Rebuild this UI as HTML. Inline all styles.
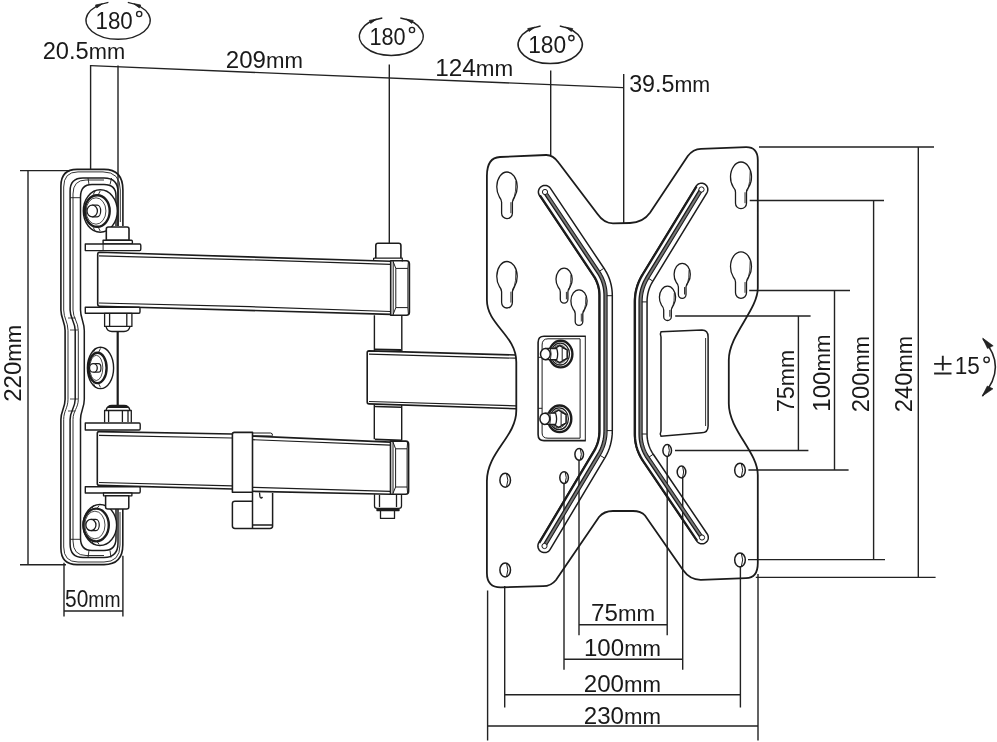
<!DOCTYPE html>
<html><head><meta charset="utf-8">
<style>
html,body{margin:0;padding:0;background:#fff;width:997px;height:742px;overflow:hidden}
svg{display:block;will-change:transform}
text{font-family:"Liberation Sans",sans-serif;font-size:24.5px;fill:#1a1a1a}
</style></head>
<body>
<svg width="997" height="742" viewBox="0 0 997 742">
<rect width="997" height="742" fill="#fff"/>

<g stroke="#222" stroke-width="1.4" fill="none">
<path d="M90.6 65.6 L623 87.6"/>
<path d="M90.6 65 V169 M118 65.5 V226 M389.3 64.6 V243 M550.7 70.5 V155.5 M623.7 74 V223"/>
<path d="M20 170.6 H70 M28 170.6 V564.7 M20 564.7 H66"/>
<path d="M64 611 H123 M64 562.7 V616.6 M122.9 555.7 V616.6"/>
<path d="M759 147 H934 M918.3 147 V577.4 M755.8 577.4 H935.6"/>
<path d="M749.7 200.5 H884 M873.6 200.5 V559.6 M748 559.6 H885"/>
<path d="M749.2 290.5 H850 M834.5 290.5 V470 M748.4 470 H848.6"/>
<path d="M675.2 316 H810.6 M798.4 316 V450.5 M675 450.5 H808.4"/>
<path d="M578.8 624.7 H666.7 M579 460 V635.2 M667.2 456 V635.2"/>
<path d="M564.4 659.3 H682.3 M564 483 V669.8 M682.7 477 V669.8"/>
<path d="M505 694.8 H740.4 M504.7 586 V707.5 M740.4 566 V707.5"/>
<path d="M487.6 726 H758 M487.6 590.5 V740.6 M758 574 V740.6"/>
</g>
<path d="M127.80 2.38 A32.1 18.9 0 1 1 108.40 2.38" stroke="#222" stroke-width="1.5" fill="none"/>
<path d="M102.56 3.64 L96.80 7.93 L95.51 5.00 Z" fill="#222" stroke="#222" stroke-width="0.8" stroke-linejoin="round"/>
<path d="M133.64 3.64 L140.69 5.00 L139.40 7.93 Z" fill="#222" stroke="#222" stroke-width="0.8" stroke-linejoin="round"/>
<path d="M400.30 17.98 A31.9 19.1 0 1 1 382.30 17.98" stroke="#222" stroke-width="1.5" fill="none"/>
<path d="M376.48 19.17 L370.67 23.39 L369.41 20.44 Z" fill="#222" stroke="#222" stroke-width="0.8" stroke-linejoin="round"/>
<path d="M406.12 19.17 L413.19 20.44 L411.93 23.39 Z" fill="#222" stroke="#222" stroke-width="0.8" stroke-linejoin="round"/>
<path d="M559.80 25.89 A32.0 19.3 0 1 1 540.60 25.89" stroke="#222" stroke-width="1.5" fill="none"/>
<path d="M534.75 27.18 L529.02 31.50 L527.71 28.58 Z" fill="#222" stroke="#222" stroke-width="0.8" stroke-linejoin="round"/>
<path d="M565.65 27.18 L572.69 28.58 L571.38 31.50 Z" fill="#222" stroke="#222" stroke-width="0.8" stroke-linejoin="round"/>
<g stroke="#222" stroke-width="1.4" fill="none">
<circle cx="139.2" cy="14.0" r="2.6"/><circle cx="412" cy="30" r="2.6"/><circle cx="571.4" cy="38.1" r="2.6"/><circle cx="986.6" cy="359.8" r="2.7"/>
</g>
<path d="M983 339 Q1008 367 982.5 396" stroke="#222" stroke-width="1.5" fill="none"/>
<path d="M982.6 338.1 L993.2 345.8 L987.5 348.5 Z M982.1 396.2 L993 388.8 L987.3 386 Z" fill="#222" stroke="#222" stroke-width="0.6"/>
<path d="M942.8 355.8 V370.5 M934.1 363.9 H951.5 M934.1 373.5 H951.5" stroke="#222" stroke-width="1.9" fill="none"/>
<path d="M486.9 176 Q486.9 157.5 500 157 L546 155 Q553 154.8 558.5 162.5 L597.3 213.7 Q604 223.3 613 223.3 L630 223 Q643 222.5 650 212.7 L687.8 156 Q693 149 701 148.8 L746 147.2 Q757.8 147 757.8 160 L757.8 288 C757.8 310 728.8 335 728.8 360 L728.8 403.5 C728.8 430 757.8 452 757.8 475 L757.8 563 Q757.8 578 746 578.2 L701 579.8 Q690 580 683 570 L645 515.5 Q641 511 633 511 L613 511 Q604 511 599 517 L556 580 Q551 586.2 543 586.2 L501 587.4 Q486.9 587.6 486.9 573 L486.9 481 C486.9 452 516.3 437 516.3 410.5 L516.3 362 C516.3 335 486.9 325 486.9 300 Z" stroke="#1c1c1c" stroke-width="1.8" fill="none"/>
<path d="M592.96 275.53 L593.59 276.50 L594.16 277.43 L594.70 278.38 L595.20 279.33 L595.68 280.28 L596.12 281.24 L596.53 282.21 L596.91 283.19 L597.26 284.17 L597.58 285.17 L597.86 286.17 L598.12 287.18 L598.35 288.21 L598.55 289.24 L598.72 290.29 L598.85 291.34 L598.96 292.41 L599.04 293.50 L599.08 294.59 L599.10 295.75 L599.10 430.56 L599.08 431.72 L599.04 432.84 L598.97 433.94 L598.87 435.03 L598.74 436.11 L598.58 437.19 L598.40 438.25 L598.18 439.30 L597.94 440.35 L597.67 441.38 L597.37 442.41 L597.04 443.43 L596.69 444.45 L596.30 445.45 L595.89 446.45 L595.44 447.45 L594.97 448.44 L594.46 449.42 L593.93 450.40 L593.34 451.41 L538.83 542.61 L538.44 543.38 L538.15 544.20 L537.97 545.04 L537.90 545.90 L537.94 546.76 L538.10 547.61 L538.36 548.43 L538.74 549.21 L539.20 549.94 L539.76 550.60 L540.40 551.17 L541.11 551.67 L541.88 552.06 L542.70 552.35 L543.54 552.53 L544.40 552.60 L545.26 552.56 L546.11 552.40 L546.93 552.14 L547.71 551.76 L548.44 551.30 L549.10 550.74 L549.67 550.10 L550.17 549.39 L604.70 458.14 L604.74 458.07 L605.39 456.95 L605.47 456.80 L606.09 455.67 L606.17 455.52 L606.76 454.38 L606.83 454.22 L607.38 453.07 L607.46 452.91 L607.97 451.76 L608.05 451.59 L608.53 450.43 L608.60 450.26 L609.05 449.08 L609.11 448.91 L609.53 447.73 L609.58 447.56 L609.97 446.36 L610.02 446.19 L610.37 444.98 L610.42 444.81 L610.74 443.60 L610.78 443.42 L611.06 442.20 L611.10 442.02 L611.35 440.79 L611.38 440.61 L611.60 439.37 L611.63 439.19 L611.81 437.94 L611.84 437.77 L611.99 436.51 L612.01 436.33 L612.12 435.06 L612.14 434.89 L612.22 433.61 L612.23 433.44 L612.28 432.15 L612.28 431.98 L612.30 430.68 L612.30 430.60 L612.30 295.70 L612.30 295.61 L612.28 294.31 L612.28 294.13 L612.22 292.84 L612.21 292.65 L612.12 291.38 L612.10 291.19 L611.98 289.93 L611.96 289.74 L611.79 288.49 L611.76 288.29 L611.57 287.05 L611.53 286.86 L611.30 285.63 L611.26 285.43 L610.99 284.22 L610.94 284.02 L610.63 282.82 L610.58 282.62 L610.24 281.43 L610.18 281.24 L609.80 280.05 L609.73 279.86 L609.32 278.69 L609.25 278.50 L608.80 277.34 L608.72 277.15 L608.23 276.00 L608.15 275.82 L607.63 274.68 L607.55 274.50 L606.99 273.37 L606.90 273.20 L606.30 272.08 L606.21 271.91 L605.57 270.81 L605.48 270.64 L604.81 269.55 L604.71 269.39 L604.01 268.30 L603.95 268.23 L550.49 188.33 L549.96 187.64 L549.35 187.03 L548.66 186.51 L547.91 186.08 L547.12 185.75 L546.28 185.53 L545.43 185.41 L544.56 185.41 L543.71 185.53 L542.87 185.75 L542.08 186.08 L541.33 186.51 L540.64 187.04 L540.03 187.65 L539.51 188.34 L539.08 189.09 L538.75 189.88 L538.53 190.72 L538.41 191.57 L538.41 192.44 L538.53 193.29 L538.75 194.13 L539.08 194.92 L539.51 195.67 L592.96 275.53 Z" stroke="#1c1c1c" stroke-width="1.5" fill="none"/>
<path d="M539.93 195.39 L593.38 275.25 L594.01 276.23 L594.59 277.18 L595.14 278.13 L595.65 279.10 L596.13 280.06 L596.58 281.04 L596.99 282.02 L597.38 283.01 L597.73 284.01 L598.06 285.02 L598.35 286.04 L598.61 287.07 L598.84 288.11 L599.04 289.15 L599.21 290.21 L599.35 291.29 L599.46 292.37 L599.54 293.47 L599.58 294.58 L599.60 295.74 L599.60 430.56 L599.58 431.74 L599.54 432.86 L599.47 433.98 L599.37 435.09 L599.24 436.18 L599.08 437.27 L598.89 438.34 L598.67 439.41 L598.43 440.47 L598.15 441.52 L597.85 442.56 L597.52 443.59 L597.16 444.62 L596.77 445.64 L596.35 446.65 L595.90 447.66 L595.42 448.66 L594.91 449.66 L594.37 450.65 L593.77 451.66 L539.26 542.87" stroke="#1c1c1c" stroke-width="2.2" fill="none"/>
<path d="M544.83 192.11 L598.30 272.01 L599.01 273.09 L599.67 274.18 L600.30 275.28 L600.89 276.40 L601.45 277.52 L601.97 278.66 L602.46 279.80 L602.91 280.96 L603.32 282.13 L603.70 283.31 L604.04 284.50 L604.35 285.70 L604.62 286.91 L604.85 288.13 L605.05 289.37 L605.21 290.61 L605.34 291.87 L605.43 293.13 L605.48 294.41 L605.50 295.70 L605.50 430.60 L605.48 431.89 L605.43 433.17 L605.35 434.44 L605.23 435.71 L605.08 436.96 L604.90 438.20 L604.69 439.44 L604.44 440.66 L604.16 441.88 L603.84 443.09 L603.49 444.28 L603.11 445.47 L602.69 446.65 L602.25 447.82 L601.76 448.99 L601.25 450.14 L600.70 451.28 L600.12 452.42 L599.51 453.54 L598.86 454.66 L544.33 545.90" stroke="#777" stroke-width="3.0" fill="none"/>
<path d="M543.59 192.95 L597.05 272.83 L597.74 273.89 L598.38 274.94 L598.99 276.01 L599.56 277.08 L600.10 278.17 L600.60 279.26 L601.07 280.37 L601.50 281.48 L601.90 282.61 L602.27 283.74 L602.59 284.89 L602.89 286.05 L603.15 287.21 L603.37 288.39 L603.57 289.58 L603.72 290.78 L603.84 291.99 L603.93 293.22 L603.98 294.45 L604.00 295.71 L604.00 430.59 L603.98 431.85 L603.94 433.09 L603.86 434.33 L603.74 435.55 L603.60 436.76 L603.42 437.96 L603.21 439.16 L602.97 440.34 L602.70 441.52 L602.39 442.69 L602.06 443.85 L601.69 445.00 L601.29 446.14 L600.85 447.27 L600.39 448.39 L599.89 449.51 L599.36 450.61 L598.80 451.71 L598.20 452.80 L597.57 453.90 L543.04 545.13" stroke="#1c1c1c" stroke-width="1.3" fill="none"/>
<path d="M546.16 191.22 L599.63 271.12 L599.64 271.13 L600.35 272.22 L600.37 272.25 L601.04 273.35 L601.06 273.38 L601.69 274.49 L601.71 274.53 L602.31 275.65 L602.33 275.68 L602.89 276.81 L602.91 276.85 L603.43 277.99 L603.45 278.03 L603.93 279.18 L603.95 279.22 L604.40 280.38 L604.42 280.42 L604.83 281.60 L604.85 281.64 L605.23 282.82 L605.24 282.86 L605.58 284.06 L605.59 284.10 L605.90 285.31 L605.91 285.35 L606.18 286.56 L606.19 286.61 L606.42 287.83 L606.43 287.88 L606.63 289.12 L606.64 289.16 L606.80 290.41 L606.80 290.45 L606.93 291.71 L606.93 291.75 L607.02 293.02 L607.03 293.06 L607.08 294.35 L607.08 294.39 L607.10 295.68 L607.10 295.70 L607.10 430.60 L607.10 430.62 L607.08 431.91 L607.08 431.95 L607.03 433.24 L607.03 433.27 L606.95 434.55 L606.94 434.59 L606.83 435.85 L606.82 435.89 L606.67 437.15 L606.67 437.19 L606.48 438.44 L606.48 438.48 L606.26 439.72 L606.25 439.75 L606.00 440.98 L606.00 441.02 L605.71 442.24 L605.70 442.28 L605.39 443.49 L605.38 443.53 L605.03 444.73 L605.02 444.77 L604.63 445.97 L604.62 446.00 L604.20 447.19 L604.19 447.22 L603.74 448.40 L603.73 448.43 L603.24 449.60 L603.23 449.64 L602.71 450.79 L602.69 450.83 L602.14 451.97 L602.13 452.01 L601.54 453.15 L601.53 453.18 L600.91 454.31 L600.89 454.34 L600.24 455.46 L600.23 455.48 L545.70 546.72" stroke="#1c1c1c" stroke-width="1.1" fill="none"/>
<path d="M599.47 271.23 L603.71 268.39" stroke="#1c1c1c" stroke-width="1.0" fill="none"/>
<path d="M606.90 295.70 L612.00 295.70" stroke="#1c1c1c" stroke-width="1.0" fill="none"/>
<path d="M606.90 430.60 L612.00 430.60" stroke="#1c1c1c" stroke-width="1.0" fill="none"/>
<path d="M600.06 455.37 L604.44 457.99" stroke="#1c1c1c" stroke-width="1.0" fill="none"/>
<circle cx="545.00" cy="192.00" r="2.6" stroke="#1c1c1c" stroke-width="1.0" fill="#fff"/>
<circle cx="544.50" cy="546.00" r="2.6" stroke="#1c1c1c" stroke-width="1.0" fill="#fff"/>
<path d="M642.15 274.52 L642.11 274.59 L641.45 275.71 L641.37 275.85 L640.74 276.97 L640.66 277.12 L640.07 278.26 L639.99 278.41 L639.43 279.55 L639.36 279.71 L638.83 280.86 L638.76 281.02 L638.27 282.18 L638.20 282.34 L637.75 283.51 L637.68 283.68 L637.26 284.86 L637.20 285.03 L636.81 286.22 L636.76 286.39 L636.40 287.59 L636.36 287.76 L636.03 288.97 L635.99 289.14 L635.70 290.36 L635.67 290.53 L635.41 291.76 L635.38 291.93 L635.16 293.17 L635.13 293.34 L634.94 294.59 L634.92 294.76 L634.77 296.02 L634.75 296.19 L634.63 297.46 L634.62 297.63 L634.53 298.90 L634.52 299.07 L634.47 300.36 L634.47 300.52 L634.45 301.82 L634.45 301.90 L634.45 434.00 L634.45 434.09 L634.47 435.38 L634.47 435.56 L634.53 436.85 L634.54 437.03 L634.63 438.30 L634.65 438.48 L634.77 439.74 L634.79 439.93 L634.96 441.18 L634.99 441.37 L635.19 442.61 L635.22 442.79 L635.46 444.02 L635.50 444.21 L635.77 445.42 L635.81 445.61 L636.12 446.82 L636.17 447.00 L636.52 448.20 L636.58 448.38 L636.96 449.56 L637.02 449.75 L637.44 450.92 L637.51 451.10 L637.96 452.26 L638.04 452.43 L638.53 453.58 L638.61 453.76 L639.13 454.90 L639.22 455.07 L639.78 456.19 L639.87 456.36 L640.47 457.47 L640.56 457.64 L641.20 458.74 L641.29 458.90 L641.96 459.99 L642.06 460.14 L642.77 461.22 L642.82 461.30 L696.78 541.03 L697.29 541.68 L697.87 542.26 L698.53 542.76 L699.25 543.17 L700.01 543.48 L700.81 543.69 L701.63 543.79 L702.45 543.78 L703.27 543.67 L704.06 543.45 L704.82 543.13 L705.53 542.72 L706.18 542.21 L706.76 541.63 L707.26 540.97 L707.67 540.25 L707.98 539.49 L708.19 538.69 L708.29 537.87 L708.28 537.05 L708.17 536.23 L707.95 535.44 L707.63 534.68 L707.22 533.97 L653.28 454.27 L652.64 453.30 L652.06 452.36 L651.52 451.42 L651.00 450.46 L650.52 449.51 L650.07 448.54 L649.66 447.57 L649.27 446.58 L648.92 445.59 L648.60 444.59 L648.30 443.59 L648.04 442.57 L647.81 441.54 L647.61 440.50 L647.44 439.45 L647.30 438.38 L647.19 437.31 L647.11 436.22 L647.07 435.12 L647.05 433.96 L647.05 301.94 L647.07 300.77 L647.11 299.65 L647.18 298.55 L647.29 297.45 L647.42 296.36 L647.58 295.29 L647.77 294.22 L647.99 293.17 L648.23 292.12 L648.51 291.08 L648.82 290.05 L649.15 289.03 L649.51 288.02 L649.91 287.01 L650.33 286.01 L650.79 285.01 L651.27 284.02 L651.78 283.04 L652.33 282.06 L652.93 281.06 L706.88 192.79 L707.26 192.06 L707.54 191.28 L707.72 190.48 L707.80 189.66 L707.76 188.83 L707.62 188.02 L707.38 187.24 L707.03 186.49 L706.59 185.79 L706.06 185.16 L705.46 184.60 L704.79 184.12 L704.06 183.74 L703.28 183.46 L702.48 183.28 L701.66 183.20 L700.83 183.24 L700.02 183.38 L699.24 183.62 L698.49 183.97 L697.79 184.41 L697.16 184.94 L696.60 185.54 L696.12 186.21 L642.15 274.52 Z" stroke="#1c1c1c" stroke-width="1.5" fill="none"/>
<path d="M696.55 186.48 L642.58 274.78 L642.54 274.85 L641.88 275.96 L641.80 276.09 L641.18 277.22 L641.10 277.36 L640.51 278.49 L640.44 278.63 L639.88 279.77 L639.81 279.91 L639.29 281.07 L639.22 281.21 L638.73 282.37 L638.67 282.52 L638.21 283.70 L638.16 283.85 L637.73 285.03 L637.68 285.18 L637.29 286.37 L637.24 286.53 L636.88 287.73 L636.84 287.88 L636.52 289.09 L636.48 289.25 L636.19 290.47 L636.16 290.63 L635.90 291.86 L635.87 292.02 L635.65 293.26 L635.62 293.41 L635.44 294.66 L635.42 294.82 L635.26 296.08 L635.25 296.24 L635.13 297.50 L635.12 297.66 L635.03 298.93 L635.02 299.09 L634.97 300.38 L634.97 300.53 L634.95 301.82 L634.95 301.90 L634.95 434.00 L634.95 434.08 L634.97 435.38 L634.97 435.54 L635.03 436.82 L635.04 436.99 L635.13 438.26 L635.14 438.43 L635.27 439.69 L635.29 439.87 L635.45 441.11 L635.48 441.29 L635.68 442.53 L635.71 442.70 L635.95 443.93 L635.98 444.10 L636.26 445.31 L636.30 445.49 L636.61 446.69 L636.65 446.86 L637.00 448.06 L637.05 448.23 L637.44 449.41 L637.49 449.58 L637.91 450.75 L637.97 450.91 L638.43 452.08 L638.50 452.24 L638.99 453.39 L639.06 453.55 L639.59 454.69 L639.66 454.84 L640.23 455.97 L640.31 456.12 L640.91 457.24 L640.99 457.39 L641.63 458.49 L641.71 458.63 L642.39 459.73 L642.48 459.87 L643.19 460.95 L643.23 461.02 L697.20 540.75" stroke="#1c1c1c" stroke-width="2.2" fill="none"/>
<path d="M701.33 189.40 L647.36 277.70 L647.36 277.71 L646.70 278.82 L646.69 278.82 L646.07 279.95 L646.06 279.95 L645.47 281.09 L645.47 281.09 L644.91 282.23 L644.91 282.24 L644.38 283.39 L644.38 283.40 L643.89 284.56 L643.89 284.56 L643.43 285.73 L643.43 285.74 L643.00 286.92 L643.00 286.92 L642.61 288.11 L642.61 288.12 L642.25 289.32 L642.25 289.33 L641.93 290.53 L641.93 290.54 L641.64 291.76 L641.64 291.76 L641.38 292.99 L641.38 293.00 L641.16 294.24 L641.16 294.24 L640.98 295.49 L640.98 295.50 L640.82 296.75 L640.82 296.76 L640.70 298.02 L640.70 298.03 L640.62 299.31 L640.62 299.31 L640.57 300.60 L640.57 300.60 L640.55 301.90 L640.55 301.90 L640.55 434.00 L640.55 434.00 L640.57 435.30 L640.57 435.30 L640.62 436.59 L640.62 436.59 L640.71 437.86 L640.71 437.87 L640.84 439.13 L640.84 439.14 L641.01 440.39 L641.01 440.39 L641.21 441.63 L641.21 441.64 L641.45 442.86 L641.45 442.87 L641.72 444.09 L641.72 444.09 L642.03 445.30 L642.03 445.30 L642.38 446.50 L642.38 446.50 L642.76 447.69 L642.77 447.69 L643.18 448.86 L643.19 448.87 L643.64 450.03 L643.64 450.03 L644.14 451.18 L644.14 451.19 L644.67 452.33 L644.67 452.33 L645.23 453.46 L645.24 453.47 L645.84 454.58 L645.84 454.59 L646.48 455.69 L646.48 455.70 L647.16 456.79 L647.16 456.79 L647.87 457.88 L647.87 457.88 L701.83 537.61" stroke="#777" stroke-width="3.0" fill="none"/>
<path d="M700.05 188.61 L646.08 276.92 L646.07 276.94 L645.41 278.05 L645.38 278.09 L644.76 279.22 L644.74 279.26 L644.14 280.39 L644.12 280.43 L643.56 281.57 L643.54 281.62 L643.02 282.77 L643.00 282.81 L642.51 283.97 L642.49 284.02 L642.03 285.19 L642.01 285.23 L641.59 286.41 L641.57 286.46 L641.19 287.65 L641.17 287.69 L640.82 288.89 L640.80 288.94 L640.48 290.15 L640.47 290.20 L640.18 291.41 L640.17 291.46 L639.92 292.69 L639.91 292.74 L639.69 293.97 L639.68 294.02 L639.49 295.27 L639.49 295.31 L639.33 296.57 L639.33 296.62 L639.21 297.88 L639.21 297.93 L639.12 299.21 L639.12 299.25 L639.07 300.54 L639.07 300.58 L639.05 301.88 L639.05 301.90 L639.05 434.00 L639.05 434.02 L639.07 435.32 L639.07 435.37 L639.12 436.65 L639.13 436.70 L639.22 437.97 L639.22 438.02 L639.35 439.28 L639.36 439.33 L639.52 440.58 L639.53 440.63 L639.73 441.87 L639.74 441.92 L639.97 443.15 L639.98 443.20 L640.26 444.42 L640.27 444.47 L640.58 445.67 L640.59 445.72 L640.94 446.91 L640.95 446.96 L641.34 448.15 L641.35 448.20 L641.77 449.37 L641.79 449.42 L642.25 450.58 L642.27 450.63 L642.76 451.77 L642.78 451.82 L643.31 452.96 L643.33 453.01 L643.89 454.13 L643.92 454.18 L644.52 455.29 L644.54 455.34 L645.18 456.44 L645.20 456.48 L645.88 457.58 L645.90 457.62 L646.62 458.70 L646.63 458.72 L700.59 538.45" stroke="#1c1c1c" stroke-width="1.3" fill="none"/>
<path d="M702.69 190.23 L648.73 278.53 L648.08 279.62 L647.47 280.71 L646.90 281.81 L646.35 282.92 L645.85 284.04 L645.37 285.16 L644.93 286.30 L644.51 287.44 L644.14 288.59 L643.79 289.76 L643.48 290.93 L643.20 292.11 L642.96 293.30 L642.74 294.50 L642.56 295.71 L642.41 296.93 L642.30 298.15 L642.22 299.39 L642.17 300.64 L642.15 301.91 L642.15 433.99 L642.17 435.25 L642.22 436.50 L642.31 437.73 L642.43 438.95 L642.59 440.16 L642.78 441.35 L643.01 442.54 L643.28 443.71 L643.58 444.88 L643.91 446.03 L644.28 447.17 L644.68 448.30 L645.12 449.42 L645.60 450.54 L646.11 451.63 L646.66 452.72 L647.24 453.80 L647.85 454.87 L648.51 455.93 L649.20 456.99 L703.16 536.72" stroke="#1c1c1c" stroke-width="1.1" fill="none"/>
<path d="M648.55 278.43 L652.65 280.94" stroke="#1c1c1c" stroke-width="1.0" fill="none"/>
<path d="M641.95 301.90 L646.75 301.90" stroke="#1c1c1c" stroke-width="1.0" fill="none"/>
<path d="M641.95 434.00 L646.75 434.00" stroke="#1c1c1c" stroke-width="1.0" fill="none"/>
<path d="M649.03 457.09 L653.01 454.40" stroke="#1c1c1c" stroke-width="1.0" fill="none"/>
<circle cx="701.50" cy="189.50" r="2.6" stroke="#1c1c1c" stroke-width="1.0" fill="#fff"/>
<circle cx="702.00" cy="537.50" r="2.6" stroke="#1c1c1c" stroke-width="1.0" fill="#fff"/>
<path d="M501.60 213.20 L501.60 202.23 Q501.60 199.73 499.40 197.00 A10.20 15.00 0 1 1 514.60 197.00 Q512.40 199.73 512.40 202.23 L512.40 213.20 A5.40 5.40 0 0 1 501.60 213.20 Z" stroke="#1c1c1c" stroke-width="1.3" fill="none"/>
<path d="M510.90 202.23 L510.90 213.20" stroke="#1c1c1c" stroke-width="0.9" fill="none"/>
<path d="M515.90 181.00 Q516.30 191.50 513.40 200.73" stroke="#1c1c1c" stroke-width="0.8" fill="none"/>
<path d="M501.60 302.60 L501.60 291.73 Q501.60 289.23 499.40 286.50 A10.20 15.00 0 1 1 514.60 286.50 Q512.40 289.23 512.40 291.73 L512.40 302.60 A5.40 5.40 0 0 1 501.60 302.60 Z" stroke="#1c1c1c" stroke-width="1.3" fill="none"/>
<path d="M510.90 291.73 L510.90 302.60" stroke="#1c1c1c" stroke-width="0.9" fill="none"/>
<path d="M515.90 270.50 Q516.30 281.00 513.40 290.23" stroke="#1c1c1c" stroke-width="0.8" fill="none"/>
<path d="M560.30 299.30 L560.30 291.88 Q560.30 289.38 558.10 286.99 A8.10 11.30 0 1 1 570.10 286.99 Q567.90 289.38 567.90 291.88 L567.90 299.30 A3.80 3.80 0 0 1 560.30 299.30 Z" stroke="#1c1c1c" stroke-width="1.3" fill="none"/>
<path d="M566.40 291.88 L566.40 299.30" stroke="#1c1c1c" stroke-width="0.9" fill="none"/>
<path d="M570.90 274.88 Q571.30 282.79 568.90 290.38" stroke="#1c1c1c" stroke-width="0.8" fill="none"/>
<path d="M575.20 321.50 L575.20 313.58 Q575.20 311.08 573.00 308.69 A8.10 11.30 0 1 1 585.00 308.69 Q582.80 311.08 582.80 313.58 L582.80 321.50 A3.80 3.80 0 0 1 575.20 321.50 Z" stroke="#1c1c1c" stroke-width="1.3" fill="none"/>
<path d="M581.30 313.58 L581.30 321.50" stroke="#1c1c1c" stroke-width="0.9" fill="none"/>
<path d="M585.80 296.58 Q586.20 304.49 583.80 312.08" stroke="#1c1c1c" stroke-width="0.8" fill="none"/>
<path d="M735.50 203.20 L735.50 192.28 Q735.50 189.78 733.30 187.20 A10.50 15.00 0 1 1 748.70 187.20 Q746.50 189.78 746.50 192.28 L746.50 203.20 A5.50 5.50 0 0 1 735.50 203.20 Z" stroke="#1c1c1c" stroke-width="1.3" fill="none"/>
<path d="M745.00 192.28 L745.00 203.20" stroke="#1c1c1c" stroke-width="0.9" fill="none"/>
<path d="M750.20 171.00 Q750.60 181.50 747.50 190.78" stroke="#1c1c1c" stroke-width="0.8" fill="none"/>
<path d="M735.50 292.80 L735.50 282.08 Q735.50 279.58 733.30 277.00 A10.50 15.00 0 1 1 748.70 277.00 Q746.50 279.58 746.50 282.08 L746.50 292.80 A5.50 5.50 0 0 1 735.50 292.80 Z" stroke="#1c1c1c" stroke-width="1.3" fill="none"/>
<path d="M745.00 282.08 L745.00 292.80" stroke="#1c1c1c" stroke-width="0.9" fill="none"/>
<path d="M750.20 260.80 Q750.60 271.30 747.50 280.58" stroke="#1c1c1c" stroke-width="0.8" fill="none"/>
<path d="M678.40 294.50 L678.40 287.08 Q678.40 284.58 676.20 282.19 A8.10 11.30 0 1 1 688.20 282.19 Q686.00 284.58 686.00 287.08 L686.00 294.50 A3.80 3.80 0 0 1 678.40 294.50 Z" stroke="#1c1c1c" stroke-width="1.3" fill="none"/>
<path d="M684.50 287.08 L684.50 294.50" stroke="#1c1c1c" stroke-width="0.9" fill="none"/>
<path d="M689.00 270.08 Q689.40 277.99 687.00 285.58" stroke="#1c1c1c" stroke-width="0.8" fill="none"/>
<path d="M663.70 316.70 L663.70 309.98 Q663.70 307.48 661.50 305.09 A8.10 11.30 0 1 1 673.50 305.09 Q671.30 307.48 671.30 309.98 L671.30 316.70 A3.80 3.80 0 0 1 663.70 316.70 Z" stroke="#1c1c1c" stroke-width="1.3" fill="none"/>
<path d="M669.80 309.98 L669.80 316.70" stroke="#1c1c1c" stroke-width="0.9" fill="none"/>
<path d="M674.30 292.98 Q674.70 300.89 672.30 308.48" stroke="#1c1c1c" stroke-width="0.8" fill="none"/>
<ellipse cx="505.2" cy="480.2" rx="5.3" ry="7.0" stroke="#1c1c1c" stroke-width="1.5" fill="none"/>
<path d="M506.52 473.55 Q509.18 480.2 506.52 486.85" stroke="#1c1c1c" stroke-width="1.0" fill="none"/>
<ellipse cx="505.2" cy="569.9" rx="5.3" ry="7.0" stroke="#1c1c1c" stroke-width="1.5" fill="none"/>
<path d="M506.52 563.25 Q509.18 569.9 506.52 576.55" stroke="#1c1c1c" stroke-width="1.0" fill="none"/>
<ellipse cx="579.2" cy="454.3" rx="4.3" ry="5.9" stroke="#1c1c1c" stroke-width="1.5" fill="none"/>
<path d="M580.28 448.69 Q582.43 454.3 580.28 459.91" stroke="#1c1c1c" stroke-width="1.0" fill="none"/>
<ellipse cx="564.1" cy="477.6" rx="4.3" ry="5.9" stroke="#1c1c1c" stroke-width="1.5" fill="none"/>
<path d="M565.18 472.00 Q567.33 477.6 565.18 483.21" stroke="#1c1c1c" stroke-width="1.0" fill="none"/>
<ellipse cx="667.2" cy="450.5" rx="4.3" ry="5.9" stroke="#1c1c1c" stroke-width="1.5" fill="none"/>
<path d="M668.28 444.89 Q670.43 450.5 668.28 456.11" stroke="#1c1c1c" stroke-width="1.0" fill="none"/>
<ellipse cx="681.5" cy="472" rx="4.3" ry="5.9" stroke="#1c1c1c" stroke-width="1.5" fill="none"/>
<path d="M682.58 466.39 Q684.73 472 682.58 477.61" stroke="#1c1c1c" stroke-width="1.0" fill="none"/>
<ellipse cx="740" cy="470.2" rx="5.3" ry="7.0" stroke="#1c1c1c" stroke-width="1.5" fill="none"/>
<path d="M741.33 463.55 Q743.98 470.2 741.33 476.85" stroke="#1c1c1c" stroke-width="1.0" fill="none"/>
<ellipse cx="740" cy="559.9" rx="5.3" ry="7.0" stroke="#1c1c1c" stroke-width="1.5" fill="none"/>
<path d="M741.33 553.25 Q743.98 559.9 741.33 566.55" stroke="#1c1c1c" stroke-width="1.0" fill="none"/>
<path d="M661 331.8 L702 330.1 Q708.1 330.1 708.1 337 L708.1 426 Q708.1 432.8 701.5 432.8 L661 436.2 Q659.6 434 661 431 L661 337 Q659.6 334 661 331.8 Z" stroke="#1c1c1c" stroke-width="1.5" fill="none"/>
<path d="M705.6 338 L705.6 426" stroke="#1c1c1c" stroke-width="0.9" fill="none"/>
<path d="M122.9 226 L122.9 190 Q122.9 169.4 104 169.4 L77 169.4 Q60.9 169.4 60.9 186 L60.9 310 C60.9 318 65.1 322 65.1 330.5 L65.1 399.2 C65.1 408 60.9 411 60.9 419.4 L60.9 548 Q60.9 564.6 77 564.6 L104 564.6 Q122.8 564.6 122.8 545 L122.8 509" stroke="#1c1c1c" stroke-width="1.6" fill="none" stroke-linejoin="round"/>
<path d="M120.3 222 L120.3 190 Q120.3 171.9 103 171.9 L78 171.9 Q63.7 171.9 63.7 187 L63.7 310 C63.7 318 68 322 68 330.5 L68 399.2 C68 408 63.7 411 63.7 419.4 L63.7 547 Q63.7 562 78 562 L104 562 Q120 562 120 545 L120 512" stroke="#1c1c1c" stroke-width="0.9" fill="none" stroke-linejoin="round"/>
<path d="M118 226 L118 192 Q118 178 104 178 L83 178 Q70.1 178 70.1 191 L70.1 310 C70.1 318 75.2 322 75.2 330.5 L75.2 399.2 C75.2 408 70.1 411 70.1 419.4 L70.1 544 Q70.1 557.5 83 557.5 L104 557.5 Q118 557.5 118 543 L118 509" stroke="#1c1c1c" stroke-width="1.5" fill="none" stroke-linejoin="round"/>
<path d="M73 194 Q73 180 86 180 L104 180 M73 194 L73 310 C73 318 78.3 322 78.3 330.5 L78.3 399.2 C78.3 408 73 411 73 419.4 L73 541 Q73 555.5 86 555.5 L104 555.5" stroke="#1c1c1c" stroke-width="0.9" fill="none" stroke-linejoin="round"/>
<path d="M116 226 L116 196 Q116 184.5 104 184.5 L92 184.5 Q80.5 184.5 80.5 197 L80.5 310 C80.5 318 84.3 322 84.3 330.5 L84.3 399.2 C84.3 408 80.5 411 80.5 419.4 L80.5 538 Q80.5 550.5 92 550.5 L104 550.5 Q116 550.5 116 538 L116 509" stroke="#1c1c1c" stroke-width="1.5" fill="none" stroke-linejoin="round"/>
<path d="M70.1 197.7 L80.5 197.7 M70.1 539.3 L80.5 539.3 M88 178 L89 184.5 M111.6 178 L110 184.5 M88 557.5 L89 550.5 M111 557.5 L110 550.5" stroke="#1c1c1c" stroke-width="0.9" fill="none" stroke-linejoin="round"/>
<path d="M68 318 L75.5 318 M70 330 L78 330 M68 411 L75.5 411 M70 399 L78 399" stroke="#1c1c1c" stroke-width="0.8" fill="none" stroke-linejoin="round"/>
<ellipse cx="100.3" cy="211" rx="17" ry="21.2" stroke="#1c1c1c" stroke-width="1.4" fill="#fff"/>
<ellipse cx="97.2" cy="211" rx="12.5" ry="15.8" stroke="#1c1c1c" stroke-width="2.4" fill="none"/>
<ellipse cx="96.0" cy="211" rx="9.9" ry="13.200000000000001" stroke="#1c1c1c" stroke-width="0.8" fill="none"/>
<path d="M92.2 205.2 L97.2 205.2 A3.48 5.8 0 0 1 97.2 216.8 L92.2 216.8" stroke="#1c1c1c" stroke-width="1.2" fill="#fff"/>
<ellipse cx="92.2" cy="211" rx="5.22" ry="5.80" stroke="#1c1c1c" stroke-width="1.3" fill="#fff"/>
<path d="M93.20 194.70 L95.20 190.60 M98.20 194.90 L100.20 191.00 M93.20 227.30 L95.20 231.40 M98.20 227.10 L100.20 231.00" stroke="#1c1c1c" stroke-width="0.9" fill="none"/>
<ellipse cx="99.9" cy="525.0" rx="16.7" ry="20.5" stroke="#1c1c1c" stroke-width="1.4" fill="#fff"/>
<ellipse cx="96.1" cy="525.0" rx="12.7" ry="16.4" stroke="#1c1c1c" stroke-width="2.4" fill="none"/>
<ellipse cx="94.89999999999999" cy="525.0" rx="10.1" ry="13.799999999999999" stroke="#1c1c1c" stroke-width="0.8" fill="none"/>
<path d="M90.9 519.4 L95.9 519.4 A3.36 5.6 0 0 1 95.9 530.6 L90.9 530.6" stroke="#1c1c1c" stroke-width="1.2" fill="#fff"/>
<ellipse cx="90.9" cy="525.0" rx="5.04" ry="5.60" stroke="#1c1c1c" stroke-width="1.3" fill="#fff"/>
<path d="M92.10 508.10 L94.10 505.30 M97.10 508.30 L99.10 505.70 M92.10 541.90 L94.10 544.70 M97.10 541.70 L99.10 544.30" stroke="#1c1c1c" stroke-width="0.9" fill="none"/>
<ellipse cx="100.5" cy="367.9" rx="13.1" ry="20.7" stroke="#1c1c1c" stroke-width="1.4" fill="#fff"/>
<ellipse cx="97.5" cy="367.9" rx="9.1" ry="15.2" stroke="#1c1c1c" stroke-width="2.4" fill="none"/>
<ellipse cx="96.3" cy="367.9" rx="6.5" ry="12.6" stroke="#1c1c1c" stroke-width="0.8" fill="none"/>
<path d="M93.4 363.59999999999997 L98.4 363.59999999999997 A2.5799999999999996 4.3 0 0 1 98.4 372.2 L93.4 372.2" stroke="#1c1c1c" stroke-width="1.2" fill="#fff"/>
<ellipse cx="93.4" cy="367.9" rx="3.87" ry="4.30" stroke="#1c1c1c" stroke-width="1.3" fill="#fff"/>
<path d="M93.50 352.20 L95.50 348.00 M98.50 352.40 L100.50 348.40 M93.50 383.60 L95.50 387.80 M98.50 383.40 L100.50 387.40" stroke="#1c1c1c" stroke-width="0.9" fill="none"/>
<path d="M117.7 331.5 L117.7 405.3" stroke="#1c1c1c" stroke-width="2.2" fill="none" stroke-linejoin="round"/>
<path d="M106.3 240.2 L106.3 229 Q106.3 227 108.5 227 L127 227 Q129 227 129 229 L129 240.2 Z" stroke="#1c1c1c" stroke-width="1.6" fill="#fff" stroke-linejoin="round"/>
<path d="M103.1 240.2 L131.4 240.2 Q132.4 240.2 132.4 241.7 L132.4 242.5 Q132.4 244 131.4 244 L103.1 244 Z" stroke="#1c1c1c" stroke-width="1.4" fill="#fff" stroke-linejoin="round"/>
<path d="M85.3 244 L139.8 244 Q140.8 244 140.8 245.5 L140.8 249.1 Q140.8 250.6 139.8 250.6 L85.3 250.6 Z" stroke="#1c1c1c" stroke-width="1.4" fill="#fff" stroke-linejoin="round"/>
<path d="M103.1 244 L103.1 250.6" stroke="#1c1c1c" stroke-width="0.9" fill="none" stroke-linejoin="round"/>
<path d="M390.7 261.3 L99.5 252.3 Q97.7 252.3 97.7 254.5 L97.7 304 Q97.7 306.2 99.5 306.2 L390.7 314.4" stroke="#1c1c1c" stroke-width="1.6" fill="none" stroke-linejoin="round"/>
<path d="M99 255.8 L250 259.8 L390.7 264.3 M99 303 L250 306.7 L390.7 311.5" stroke="#1c1c1c" stroke-width="1.2" fill="none" stroke-linejoin="round"/>
<path d="M85.3 307.2 L139 307.2 Q140 307.2 140 308.7 L140 311.8 Q140 313.3 139 313.3 L85.3 313.3 Z" stroke="#1c1c1c" stroke-width="1.4" fill="#fff" stroke-linejoin="round"/>
<path d="M104.6 313.3 L104.6 326.4 L131.9 326.4 L131.9 313.3 Z" stroke="#1c1c1c" stroke-width="1.3" fill="#fff" stroke-linejoin="round"/>
<path d="M109.6 314 L109.6 326 M126.8 314 L126.8 326 M106 326.4 Q107 331.5 112 331.5 L124 331.5 Q129 331.5 130 326.4" stroke="#1c1c1c" stroke-width="1.3" fill="none" stroke-linejoin="round"/>
<path d="M104.6 422.5 L104.6 410.5 L131.3 410.5 L131.3 422.5 M108.6 411 L108.6 422 M122.4 411 L122.4 422 M128 411 L128 422 M106 410.5 Q107 405.5 112 405.5 L124 405.5 Q129 405.5 130 410.5" stroke="#1c1c1c" stroke-width="1.3" fill="none" stroke-linejoin="round"/>
<path d="M108 407 L128 407" stroke="#1c1c1c" stroke-width="2.0" fill="none" stroke-linejoin="round"/>
<path d="M85.3 423 L139.2 423 Q140.2 423 140.2 424.5 L140.2 428.5 Q140.2 430 139.2 430 L85.3 430 Z" stroke="#1c1c1c" stroke-width="1.4" fill="#fff" stroke-linejoin="round"/>
<path d="M232.4 434 L99 431.6 Q97.3 431.6 97.3 433.5 L97.3 483.5 Q97.3 485.4 99 485.4 L232.4 489" stroke="#1c1c1c" stroke-width="1.6" fill="none" stroke-linejoin="round"/>
<path d="M99 435.3 L232.4 438 M99 482.5 L232.4 485.8" stroke="#1c1c1c" stroke-width="1.2" fill="none" stroke-linejoin="round"/>
<path d="M232.4 492.3 L232.4 434.4 Q232.4 432.4 234.4 432.4 L252.5 432.4 L252.5 492.3 Z" stroke="#1c1c1c" stroke-width="1.6" fill="none" stroke-linejoin="round"/>
<path d="M252.5 433 L270.6 433 Q272.6 433 272.6 435.7 M252.5 435.9 L272 436" stroke="#1c1c1c" stroke-width="1.0" fill="none" stroke-linejoin="round"/>
<path d="M252.5 436.1 L390.5 442.1 M252.5 491.3 L390.5 494.3" stroke="#1c1c1c" stroke-width="1.6" fill="none" stroke-linejoin="round"/>
<path d="M252.5 439.7 L390.5 445.1 M252.5 487.3 L390.5 491.3" stroke="#1c1c1c" stroke-width="1.2" fill="none" stroke-linejoin="round"/>
<path d="M252.5 492.3 L252.5 528.4 L270 528.4 Q272.6 528.4 272.6 526 L272.6 493 M232.4 503.5 Q232.4 501.3 235 501.3 L252.5 501.3 M232.4 503.5 L232.4 526 Q232.4 528.4 235 528.4 L252.5 528.4 M252.5 525 L272.6 525" stroke="#1c1c1c" stroke-width="1.5" fill="none" stroke-linejoin="round"/>
<path d="M259.5 492.5 L260 497 Q261 499 262.5 497" stroke="#1c1c1c" stroke-width="1.3" fill="none" stroke-linejoin="round"/>
<path d="M85.3 486.7 L139.2 486.7 Q140.2 486.7 140.2 488.2 L140.2 491.5 Q140.2 493 139.2 493 L85.3 493 Z" stroke="#1c1c1c" stroke-width="1.4" fill="#fff" stroke-linejoin="round"/>
<path d="M103.5 493 L103.5 495.8 L131.9 495.8 L131.9 493 Z" stroke="#1c1c1c" stroke-width="1.3" fill="#fff" stroke-linejoin="round"/>
<path d="M105.6 495.8 L105.6 507 Q105.6 509 107.6 509 L126.8 509 Q128.8 509 128.8 507 L128.8 495.8 Z" stroke="#1c1c1c" stroke-width="1.5" fill="#fff" stroke-linejoin="round"/>
<path d="M390.7 260.7 L406.4 260.7 Q409.4 260.7 409.4 263.7 L409.4 312.3 Q409.4 315.3 406.4 315.3 L390.7 315.3 Z" stroke="#1c1c1c" stroke-width="1.6" fill="none" stroke-linejoin="round"/>
<path d="M393.2 260.7 L393.2 315.3 M395.8 268.4 L407.9 268.4 L407.9 307.6 L395.8 307.6 Z M393.2 261.7 L395.8 268.4 M393.2 314.3 L395.8 307.6 M408.4 261.7 L407.9 268.4 M408.4 314.3 L407.9 307.6" stroke="#1c1c1c" stroke-width="1.0" fill="none" stroke-linejoin="round"/>
<path d="M390.5 441.1 L405.6 441.1 Q408.6 441.1 408.6 444.1 L408.6 491.3 Q408.6 494.3 405.6 494.3 L390.5 494.3 Z" stroke="#1c1c1c" stroke-width="1.6" fill="none" stroke-linejoin="round"/>
<path d="M393.0 441.1 L393.0 494.3 M395.6 448.8 L407.1 448.8 L407.1 487 L395.6 487 Z M393.0 442.1 L395.6 448.8 M393.0 493.3 L395.6 487 M407.6 442.1 L407.1 448.8 M407.6 493.3 L407.1 487" stroke="#1c1c1c" stroke-width="1.0" fill="none" stroke-linejoin="round"/>
<path d="M375.8 258.1 L375.8 245.5 Q375.8 243.3 378 243.3 L398.7 243.3 Q400.9 243.3 400.9 245.5 L400.9 258.1" stroke="#1c1c1c" stroke-width="1.6" fill="none" stroke-linejoin="round"/>
<path d="M373.6 258.1 L402.3 258.1 L402.3 261.5 M373.6 258.1 L373.6 261" stroke="#1c1c1c" stroke-width="1.2" fill="none" stroke-linejoin="round"/>
<path d="M374.4 315.3 L374.4 351 M401.8 315.3 L401.8 351.8" stroke="#1c1c1c" stroke-width="1.4" fill="none" stroke-linejoin="round"/>
<path d="M375 349.3 L401 350" stroke="#1c1c1c" stroke-width="1.8" fill="none" stroke-linejoin="round"/>
<path d="M374.3 404.2 L374.3 439.3 M401.7 405 L401.7 440.5" stroke="#1c1c1c" stroke-width="1.4" fill="none" stroke-linejoin="round"/>
<path d="M375 406.5 L401 407.2" stroke="#1c1c1c" stroke-width="1.6" fill="none" stroke-linejoin="round"/>
<path d="M375 439.3 L401.5 440.3" stroke="#1c1c1c" stroke-width="1.8" fill="none" stroke-linejoin="round"/>
<path d="M377 509.6 L399 509.6" stroke="#1c1c1c" stroke-width="2.0" fill="none" stroke-linejoin="round"/>
<path d="M516 355 L369 350.9 Q367.2 350.9 367.2 352.8 L367.2 402 Q367.2 403.9 369 403.9 L516 408.7" stroke="#1c1c1c" stroke-width="1.6" fill="none" stroke-linejoin="round"/>
<path d="M369 354.1 L516 358.2 M369 401.5 L516 405.8" stroke="#1c1c1c" stroke-width="1.2" fill="none" stroke-linejoin="round"/>
<path d="M374.5 494.3 L374.5 506 Q374.5 508.3 377 508.3 L399 508.3 Q401.5 508.3 401.5 506 L401.5 494.3 M379.5 495 L379.5 507 M396.5 495 L396.5 507 M377 508.3 L377 510.5 L399 510.5 L399 508.3 M380.5 510.5 L380.5 518.4 L394.5 518.4 L394.5 510.5" stroke="#1c1c1c" stroke-width="1.3" fill="none" stroke-linejoin="round"/>
<path d="M585.8 336.3 L544 336.3 Q538.1 336.3 538.1 342.5 L538.1 434.5 Q538.1 440.6 544 440.6 L585.8 440.6" stroke="#1c1c1c" stroke-width="1.6" fill="none" stroke-linejoin="round"/>
<path d="M580 338.8 L548 338.8 Q542.1 338.8 542.1 345 L542.1 433 Q542.1 438.2 548 438.2 L580 438.2 M580.1 338.8 L580.1 438.2 M585.3 336.3 L585.3 440.6" stroke="#1c1c1c" stroke-width="1.0" fill="none" stroke-linejoin="round"/>
<path d="M538.1 357.3 L542.1 357.3 M538.1 408.3 L542.1 408.3" stroke="#1c1c1c" stroke-width="1.0" fill="none" stroke-linejoin="round"/>
<ellipse cx="560.7" cy="354.1" rx="11.7" ry="13.3" stroke="#1c1c1c" stroke-width="2.4" fill="#fff"/>
<ellipse cx="560.2" cy="354.1" rx="9.3" ry="10.9" stroke="#1c1c1c" stroke-width="1.3" fill="none"/>
<ellipse cx="559.7" cy="354.1" rx="7.6" ry="9.2" stroke="#555" stroke-width="1.0" fill="none"/>
<path d="M567.18 349.80 L559.70 345.50 L552.22 349.80 L552.22 358.40 L559.70 362.70 L567.18 358.40 Z" stroke="#1c1c1c" stroke-width="1.5" fill="#fff" stroke-linejoin="round"/>
<path d="M562.20 347.65 L562.20 360.55 M562.20 347.65 L567.18 349.80 M562.20 360.55 L567.18 358.40" stroke="#1c1c1c" stroke-width="1.0" fill="none"/>
<path d="M545.4 348.5 L556.70 348.5 Q558.70 354.1 556.70 359.70000000000005 L545.4 359.70000000000005" stroke="#1c1c1c" stroke-width="1.3" fill="#fff"/>
<path d="M550.4 348.70000000000005 Q551.9 354.1 550.4 359.5" stroke="#1c1c1c" stroke-width="0.9" fill="none"/>
<ellipse cx="545.4" cy="354.1" rx="4.9" ry="5.6" stroke="#1c1c1c" stroke-width="1.5" fill="#fff"/>
<ellipse cx="559.6" cy="418.8" rx="11.7" ry="13.3" stroke="#1c1c1c" stroke-width="2.4" fill="#fff"/>
<ellipse cx="559.1" cy="418.8" rx="9.3" ry="10.9" stroke="#1c1c1c" stroke-width="1.3" fill="none"/>
<ellipse cx="558.6" cy="418.8" rx="7.6" ry="9.2" stroke="#555" stroke-width="1.0" fill="none"/>
<path d="M566.08 414.50 L558.60 410.20 L551.12 414.50 L551.12 423.10 L558.60 427.40 L566.08 423.10 Z" stroke="#1c1c1c" stroke-width="1.5" fill="#fff" stroke-linejoin="round"/>
<path d="M561.10 412.35 L561.10 425.25 M561.10 412.35 L566.08 414.50 M561.10 425.25 L566.08 423.10" stroke="#1c1c1c" stroke-width="1.0" fill="none"/>
<path d="M544.8 413.2 L555.60 413.2 Q557.60 418.8 555.60 424.40000000000003 L544.8 424.40000000000003" stroke="#1c1c1c" stroke-width="1.3" fill="#fff"/>
<path d="M549.8 413.40000000000003 Q551.3 418.8 549.8 424.2" stroke="#1c1c1c" stroke-width="0.9" fill="none"/>
<ellipse cx="544.8" cy="418.8" rx="4.9" ry="5.6" stroke="#1c1c1c" stroke-width="1.5" fill="#fff"/>
<text x="95.50" y="28.50" textLength="37.30" lengthAdjust="spacingAndGlyphs">180</text>
<text x="369.40" y="44.50" textLength="36.20" lengthAdjust="spacingAndGlyphs">180</text>
<text x="528.20" y="52.90" textLength="38.00" lengthAdjust="spacingAndGlyphs">180</text>
<text x="42.70" y="59.10" textLength="82.50" lengthAdjust="spacingAndGlyphs">20.5<tspan style="font-size:22.6px">mm</tspan></text>
<text x="225.80" y="67.50" textLength="77.10" lengthAdjust="spacingAndGlyphs">209<tspan style="font-size:22.6px">mm</tspan></text>
<text x="435.20" y="76.20" textLength="78.00" lengthAdjust="spacingAndGlyphs">124<tspan style="font-size:22.6px">mm</tspan></text>
<text x="629.20" y="92.20" textLength="81.00" lengthAdjust="spacingAndGlyphs">39.5<tspan style="font-size:22.6px">mm</tspan></text>
<text x="65.10" y="606.70" textLength="55.40" lengthAdjust="spacingAndGlyphs">50<tspan style="font-size:22.6px">mm</tspan></text>
<text x="591.00" y="621.10" textLength="64.00" lengthAdjust="spacingAndGlyphs">75<tspan style="font-size:22.6px">mm</tspan></text>
<text x="584.00" y="656.10" textLength="77.10" lengthAdjust="spacingAndGlyphs">100<tspan style="font-size:22.6px">mm</tspan></text>
<text x="583.80" y="691.60" textLength="77.30" lengthAdjust="spacingAndGlyphs">200<tspan style="font-size:22.6px">mm</tspan></text>
<text x="583.80" y="724.00" textLength="77.30" lengthAdjust="spacingAndGlyphs">230<tspan style="font-size:22.6px">mm</tspan></text>
<text transform="translate(20.90 401.80) rotate(-90)" textLength="77.00" lengthAdjust="spacingAndGlyphs">220<tspan style="font-size:22.6px">mm</tspan></text>
<text transform="translate(793.70 412.30) rotate(-90)" textLength="62.30" lengthAdjust="spacingAndGlyphs">75<tspan style="font-size:22.6px">mm</tspan></text>
<text transform="translate(829.80 411.80) rotate(-90)" textLength="77.50" lengthAdjust="spacingAndGlyphs">100<tspan style="font-size:22.6px">mm</tspan></text>
<text transform="translate(868.50 412.30) rotate(-90)" textLength="76.50" lengthAdjust="spacingAndGlyphs">200<tspan style="font-size:22.6px">mm</tspan></text>
<text transform="translate(912.40 412.30) rotate(-90)" textLength="76.50" lengthAdjust="spacingAndGlyphs">240<tspan style="font-size:22.6px">mm</tspan></text>
<text x="954.80" y="374.00" textLength="25.10" lengthAdjust="spacingAndGlyphs">15</text>
</svg>
</body></html>
